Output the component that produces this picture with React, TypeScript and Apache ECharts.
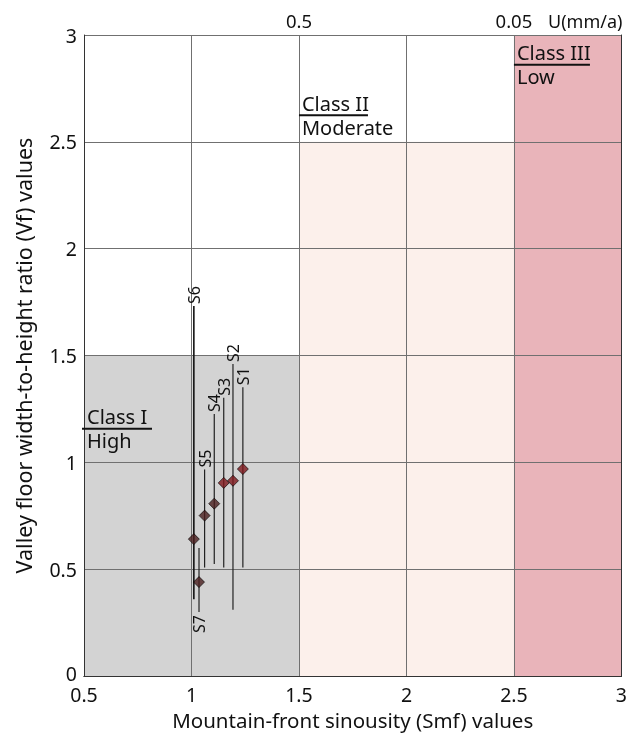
import React, { useEffect, useRef } from "react";
import * as echarts from "echarts";

// ---- data ----
const sites = ["S1", "S2", "S3", "S4", "S5", "S6", "S7"];
const smf = [1.239, 1.193, 1.15, 1.106, 1.061, 1.011, 1.035];
const vf = [0.969, 0.914, 0.904, 0.807, 0.751, 0.641, 0.44];
const vfMin = [0.508, 0.311, 0.508, 0.525, 0.508, 0.36, 0.3];
const vfMax = [1.352, 1.46, 1.302, 1.226, 0.967, 1.732, 0.6];
const labelSide = ["top", "top", "top", "top", "top", "top", "bottom"];

const classNames = ["Class I", "Class II", "Class III"];
const classLevels = ["High", "Moderate", "Low"];
const classSmfFrom = [0.5, 1.5, 2.5];
const classSmfTo = [1.5, 2.5, 3];
const classVfTop = [1.5, 2.5, 3];
const classLabelVf = [1.157, 2.624, 2.861];

const topTickValues = [1.5, 2.5];
const topTickLabels = ["0.5", "0.05"];
const topAxisUnit = "U(mm/a)";

const xTitle = "Mountain-front sinousity (Smf) values";
const yTitle = "Valley floor width-to-height ratio (Vf) values";

// ---- styles ----
const FONT = "'Noto Sans', sans-serif";
const classColors = ["#d3d3d3", "#fcf0eb", "#e9b4ba"];
const underlineWidths = [68, 69, 76];
const underlineLeftPad = [-2, 0, 0];
const pointColors = ["#7e171b", "#7e171b", "#7e171b", "#4a1e1e", "#4a1e1e", "#4a1e1e", "#4a1e1e"];

export default function App() {
  const ref = useRef<HTMLDivElement>(null);
  useEffect(() => {
    if (!ref.current) return;
    const chart = echarts.init(ref.current, undefined, { renderer: "svg" });

    const axisLine = { show: true, lineStyle: { color: "#333", width: 1 } };
    const splitLine = { show: true, lineStyle: { color: "#707070", width: 1 } };
    const labelStyle = { fontFamily: FONT, fontSize: 19.5, color: "#111" };

    const option: any = {
      animation: false,
      textStyle: { fontFamily: FONT },
      grid: { left: 84, right: 2, top: 35, bottom: 54, containLabel: false },
      xAxis: [
        {
          type: "value",
          min: 0.5,
          max: 3,
          interval: 0.5,
          z: 1.5,
          axisLine,
          axisTick: { show: false },
          splitLine,
          axisLabel: { ...labelStyle, margin: 8, formatter: (v: number) => String(v) },
          name: xTitle,
          nameLocation: "middle",
          nameGap: 27,
          nameTextStyle: { fontFamily: FONT, fontSize: 20.5, color: "#111" },
        },
        {
          type: "value",
          position: "top",
          min: 0.5,
          max: 3,
          interval: 0.5,
          z: 1.5,
          axisLine,
          axisTick: { show: false },
          splitLine: { show: false },
          axisLabel: {
            ...labelStyle,
            fontSize: 18.5,
            margin: 5,
            formatter: (v: number) => {
              const i = topTickValues.findIndex((t) => Math.abs(t - v) < 1e-9);
              return i >= 0 ? topTickLabels[i] : "";
            },
          },
        },
      ],
      yAxis: [
        {
          type: "value",
          min: 0,
          max: 3,
          interval: 0.5,
          z: 1.5,
          axisLine,
          axisTick: { show: false },
          splitLine,
          axisLabel: {
            ...labelStyle,
            margin: 7,
            formatter: (v: number) => (v === 0 ? "{z|0}" : String(v)),
            rich: { z: { fontFamily: FONT, fontSize: 19.5, color: "#111", padding: [0, 0, 6, 0] } },
          },
          name: yTitle,
          nameLocation: "middle",
          nameGap: 50,
          nameTextStyle: { fontFamily: FONT, fontSize: 21.5, color: "#111" },
        },
        {
          type: "value",
          position: "right",
          min: 0,
          max: 3,
          interval: 0.5,
          z: 1.5,
          axisLine,
          axisTick: { show: false },
          splitLine: { show: false },
          axisLabel: { show: false },
        },
      ],
      series: [
        {
          type: "scatter",
          z: 1,
          data: [],
          silent: true,
          markArea: {
            silent: true,
            label: { show: false },
            data: classNames.map((n, i) => [
              { name: n, xAxis: classSmfFrom[i], yAxis: 0, itemStyle: { color: classColors[i], opacity: 1 } },
              { xAxis: classSmfTo[i], yAxis: classVfTop[i] },
            ]),
          },
        },
        {
          type: "custom",
          z: 2,
          data: sites.map((s, i) => [smf[i], vfMin[i], vfMax[i], i]),
          renderItem: (params: any, api: any) => {
            const i = api.value(3);
            const p0 = api.coord([api.value(0), api.value(1)]);
            const p1 = api.coord([api.value(0), api.value(2)]);
            const below = labelSide[i] === "bottom";
            return {
              type: "group",
              children: [
                {
                  type: "line",
                  shape: { x1: p0[0], y1: p0[1], x2: p1[0], y2: p1[1] },
                  style: { stroke: i === 5 ? "#111" : "#222", lineWidth: i === 5 ? 1.6 : 1.2 },
                },
                {
                  type: "text",
                  x: p0[0],
                  y: below ? p0[1] + 3 : p1[1] - 2,
                  rotation: Math.PI / 2,
                  style: {
                    text: sites[i],
                    font: "16px " + FONT,
                    fill: "#111",
                    align: below ? "right" : "left",
                    verticalAlign: "middle",
                  },
                },
              ],
            };
          },
        },
        {
          type: "scatter",
          z: 3,
          symbol: "diamond",
          symbolSize: 11,
          data: sites.map((s, i) => ({
            name: s,
            value: [smf[i], vf[i]],
            itemStyle: { color: pointColors[i], borderColor: "#000", borderWidth: 0.8 },
          })),
        },
      ],
    };
    chart.setOption(option);

    const graphics: any[] = [];
    classNames.forEach((n, i) => {
      const p = chart.convertToPixel({ gridIndex: 0 }, [classSmfFrom[i], classLabelVf[i]]) as number[];
      const x0 = p[0] + underlineLeftPad[i];
      graphics.push({
        type: "line",
        z: 10,
        shape: { x1: x0, y1: p[1], x2: p[0] + underlineWidths[i], y2: p[1] },
        style: { stroke: "#111", lineWidth: 2 },
      });
      graphics.push({
        type: "text",
        z: 10,
        x: p[0] + 3,
        y: p[1] - 2,
        style: { text: n, font: "20px " + FONT, fill: "#111", align: "left", verticalAlign: "bottom" },
      });
      graphics.push({
        type: "text",
        z: 10,
        x: p[0] + 3,
        y: p[1] + 2,
        style: { text: classLevels[i], font: "20px " + FONT, fill: "#111", align: "left", verticalAlign: "top" },
      });
    });
    const pu = chart.convertToPixel({ gridIndex: 0 }, [3, 3]) as number[];
    graphics.push({
      type: "text",
      z: 10,
      x: pu[0] + 1,
      y: pu[1] - 14,
      style: { text: topAxisUnit, font: "18px " + FONT, fill: "#111", align: "right", verticalAlign: "middle" },
    });
    chart.setOption({ graphic: graphics });

    return () => chart.dispose();
  }, []);
  return <div ref={ref} style={{ position: "fixed", left: 0, top: 0, width: 630, height: 735 }} />;
}
